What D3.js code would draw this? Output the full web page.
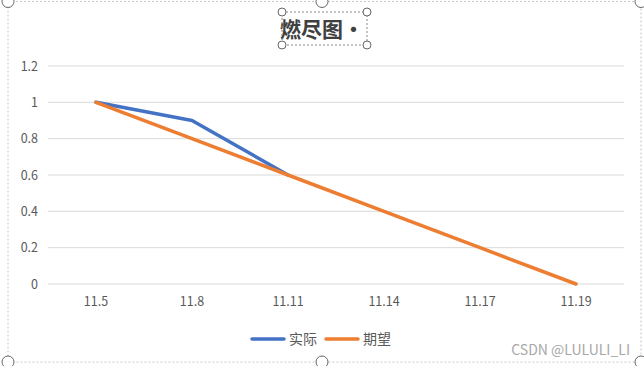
<!DOCTYPE html>
<html lang="zh">
<head>
<meta charset="UTF-8">
<title>燃尽图</title>
<style>
  body { margin: 0; background: #fff; }
  text { font-family: "Noto Sans CJK SC", "Noto Sans", sans-serif; }
  .tick text { fill: #595959; font-size: 12.5px; }
</style>
</head>
<body>
<svg id="chart" width="644" height="366"></svg>
<script src="https://d3js.org/d3.v7.min.js"></script>
<script>
const categories = ["11.5", "11.8", "11.11", "11.14", "11.17", "11.19"];
const actual = [1, 0.9, 0.6];
const expected = [1, 0.8, 0.6, 0.4, 0.2, 0];
const yTicks = [0, 0.2, 0.4, 0.6, 0.8, 1, 1.2];
const seriesNames = ["实际", "期望"];
const colors = ["#4472C4", "#ED7D31"];

const svg = d3.select("#chart");
const margin = { top: 66, right: 20, bottom: 82, left: 48 },
    width = 624 - margin.left,
    height = 284 - margin.top;

// outer chart frame (selected in Excel)
svg.append("rect")
    .attr("x", 8).attr("y", 1.5).attr("width", 633).attr("height", 360.5)
    .attr("fill", "none").attr("stroke", "#c8c8c8").attr("stroke-dasharray", "2,2");
[[8, 1.5], [322, 1.5], [641, 1.5], [8, 362], [322, 362], [641, 362]].forEach(p => {
    svg.append("circle").attr("cx", p[0]).attr("cy", p[1]).attr("r", 6)
        .attr("fill", "#fff").attr("stroke", "#666").attr("stroke-width", 1);
});

const g = svg.append("g").attr("transform", `translate(${margin.left},${margin.top})`);

const x = d3.scaleBand().domain(categories).range([0, width]);
const y = d3.scaleLinear().domain([0, 1.2]).range([height, 0]);

// gridlines
g.selectAll(".grid").data(yTicks).enter().append("line")
    .attr("x1", 0).attr("x2", width)
    .attr("y1", d => y(d)).attr("y2", d => y(d))
    .attr("stroke", "#d9d9d9").attr("stroke-width", 1);

const yAxis = g.append("g")
    .call(d3.axisLeft(y).tickValues(yTicks).tickSize(0).tickPadding(10).tickFormat(d => String(+d.toFixed(1))));
yAxis.select(".domain").remove();

const xAxis = g.append("g")
    .attr("transform", `translate(0,${height})`)
    .call(d3.axisBottom(x).tickSize(0).tickPadding(13));
xAxis.select(".domain").remove();

const line = d3.line()
    .x((d, i) => x(categories[i]) + x.bandwidth() / 2)
    .y(d => y(d));

[actual, expected].forEach((s, i) => {
    g.append("path").datum(s)
        .attr("d", line)
        .attr("fill", "none")
        .attr("stroke", colors[i])
        .attr("stroke-width", 3.5)
        .attr("stroke-linecap", "round")
        .attr("stroke-linejoin", "round");
});

// title with selection box
svg.append("text")
    .attr("x", 322).attr("y", 37)
    .attr("text-anchor", "middle")
    .attr("font-size", 21).attr("font-weight", "bold")
    .attr("fill", "#404040")
    .text("燃尽图·");
svg.append("rect")
    .attr("x", 282).attr("y", 12).attr("width", 85).attr("height", 33)
    .attr("fill", "none").attr("stroke", "#888").attr("stroke-dasharray", "2,2");
[[282, 12], [367, 12], [282, 45], [367, 45]].forEach(p => {
    svg.append("circle").attr("cx", p[0]).attr("cy", p[1]).attr("r", 4)
        .attr("fill", "#fff").attr("stroke", "#666");
});

// legend
const legendX = [252, 326];
seriesNames.forEach((name, i) => {
    const lg = svg.append("g").attr("transform", `translate(${legendX[i]},339)`);
    lg.append("line").attr("x1", 0).attr("x2", 32).attr("y1", 0).attr("y2", 0)
        .attr("stroke", colors[i]).attr("stroke-width", 3.5).attr("stroke-linecap", "round");
    lg.append("text").attr("x", 37).attr("y", 5)
        .attr("font-size", 14).attr("fill", "#595959").text(name);
});

// watermark
svg.append("text")
    .attr("x", 630).attr("y", 355).attr("text-anchor", "end")
    .attr("font-size", 14).attr("fill", "#a8a8a8")
    .text("CSDN @LULULI_LI");
</script>
</body>
</html>
